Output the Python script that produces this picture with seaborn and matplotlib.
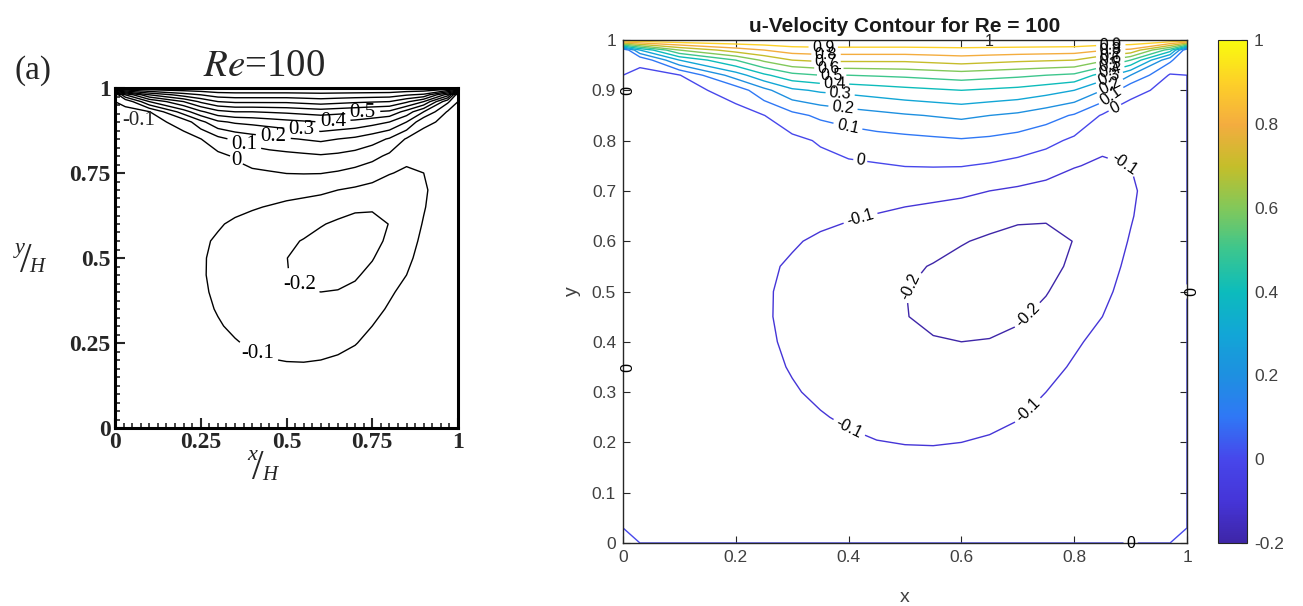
import numpy as np
import matplotlib
matplotlib.use("Agg")
import matplotlib.pyplot as plt
from matplotlib.colors import Normalize
from matplotlib.cm import ScalarMappable
from matplotlib.ticker import FuncFormatter, MultipleLocator
import seaborn as sns

# grid stations of the u-velocity table
x_st = [0, 0.03, 0.1, 0.2, 0.25, 0.3, 0.35, 0.4, 0.45, 0.5, 0.55, 0.6, 0.65, 0.7,
        0.75, 0.8, 0.85, 0.9, 0.97, 1]
y_st = [0, 0.03, 0.1, 0.15, 0.2, 0.25, 0.3, 0.35, 0.4, 0.45, 0.5, 0.55, 0.6, 0.65,
        0.7, 0.75, 0.8, 0.85, 0.9, 0.93, 0.96, 0.98, 1]

# u profiles along each x station (bottom -> top)
u_x000 = [0, 0, 0, 0, 0, 0, 0, 0, 0, 0, 0, 0, 0, 0, 0, 0, 0, 0, 0, 0, 0, 0, 1]
u_x003 = [0, -0.001, -0.004, -0.005, -0.007, -0.008, -0.009, -0.01, -0.011, -0.012, -0.013, -0.014,
          -0.015, -0.016, -0.017, -0.018, -0.019, -0.019, -0.017, -0.01, 0.01, 0.3, 1]
u_x010 = [0, -0.004, -0.012, -0.017, -0.022, -0.026, -0.03, -0.034, -0.038, -0.042, -0.045, -0.048,
          -0.051, -0.054, -0.057, -0.059, -0.06, -0.055, -0.04, -0.005, 0.3, 0.6, 1]
u_x020 = [0, -0.008, -0.025, -0.036, -0.046, -0.055, -0.062, -0.068, -0.073, -0.076, -0.078, -0.078,
          -0.077, -0.074, -0.069, -0.062, -0.053, -0.035, 0.04, 0.25, 0.5, 0.75, 1]
u_x025 = [0, -0.01, -0.033, -0.047, -0.059, -0.07, -0.079, -0.086, -0.091, -0.094, -0.094, -0.092,
          -0.087, -0.078, -0.067, -0.053, -0.035, -0.002, 0.17, 0.38, 0.62, 0.8, 1]
u_x030 = [0, -0.012, -0.04, -0.056, -0.07, -0.083, -0.095, -0.104, -0.11, -0.113, -0.112, -0.106,
          -0.095, -0.08, -0.062, -0.042, -0.025, 0.07, 0.28, 0.47, 0.7, 0.85, 1]
u_x035 = [0, -0.014, -0.045, -0.064, -0.08, -0.096, -0.11, -0.12, -0.127, -0.13, -0.129, -0.122,
          -0.108, -0.087, -0.06, -0.03, 0.01, 0.12, 0.315, 0.5, 0.72, 0.86, 1]
u_x040 = [0, -0.016, -0.05, -0.072, -0.09, -0.108, -0.126, -0.141, -0.152, -0.158, -0.158, -0.15,
          -0.13, -0.092, -0.052, -0.015, 0.04, 0.15, 0.33, 0.5, 0.72, 0.86, 1]
u_x045 = [0, -0.018, -0.055, -0.078, -0.098, -0.12, -0.142, -0.16, -0.174, -0.182, -0.183, -0.175,
          -0.15, -0.105, -0.055, -0.008, 0.06, 0.17, 0.35, 0.51, 0.72, 0.86, 1]
u_x050 = [0, -0.018, -0.058, -0.08, -0.102, -0.125, -0.15, -0.172, -0.188, -0.198, -0.199, -0.19,
          -0.165, -0.12, -0.065, 0.002, 0.07, 0.19, 0.37, 0.52, 0.72, 0.86, 1]
u_x055 = [0, -0.02, -0.057, -0.08, -0.103, -0.13, -0.155, -0.178, -0.196, -0.212, -0.218, -0.203,
          -0.18, -0.135, -0.07, 0.004, 0.08, 0.205, 0.385, 0.535, 0.735, 0.865, 1]
u_x060 = [0, -0.02, -0.053, -0.076, -0.1, -0.128, -0.155, -0.18, -0.2, -0.218, -0.228, -0.222,
          -0.195, -0.15, -0.08, 0.003, 0.09, 0.22, 0.4, 0.55, 0.75, 0.87, 1]
u_x065 = [0, -0.018, -0.048, -0.07, -0.092, -0.118, -0.145, -0.172, -0.197, -0.22, -0.235, -0.235,
          -0.212, -0.17, -0.1, -0.01, 0.08, 0.2, 0.385, 0.535, 0.735, 0.865, 1]
u_x070 = [0, -0.015, -0.04, -0.06, -0.081, -0.103, -0.128, -0.155, -0.182, -0.21, -0.232, -0.243,
          -0.228, -0.185, -0.115, -0.03, 0.06, 0.18, 0.37, 0.52, 0.72, 0.86, 1]
u_x075 = [0, -0.012, -0.032, -0.048, -0.064, -0.082, -0.1, -0.122, -0.148, -0.178, -0.205, -0.225,
          -0.225, -0.19, -0.13, -0.06, 0.03, 0.14, 0.34, 0.5, 0.71, 0.855, 1]
u_x080 = [0, -0.01, -0.025, -0.036, -0.048, -0.062, -0.076, -0.092, -0.11, -0.132, -0.158, -0.185,
          -0.198, -0.19, -0.15, -0.095, -0.02, 0.09, 0.3, 0.48, 0.7, 0.85, 1]
u_x085 = [0, -0.008, -0.018, -0.026, -0.034, -0.043, -0.053, -0.064, -0.08, -0.1, -0.12, -0.138,
          -0.15, -0.155, -0.145, -0.115, -0.075, -0.01, 0.2, 0.36, 0.62, 0.81, 1]
u_x090 = [0, -0.005, -0.01, -0.014, -0.019, -0.024, -0.03, -0.037, -0.045, -0.055, -0.067, -0.08,
          -0.094, -0.106, -0.113, -0.1, -0.075, -0.035, 0.02, 0.2, 0.5, 0.78, 1]
u_x097 = [0, -0.001, -0.003, -0.005, -0.007, -0.009, -0.011, -0.013, -0.015, -0.017, -0.019, -0.022,
          -0.027, -0.033, -0.038, -0.038, -0.035, -0.03, -0.02, -0.01, 0.12, 0.45, 1]
u_x100 = [0, 0, 0, 0, 0, 0, 0, 0, 0, 0, 0, 0, 0, 0, 0, 0, 0, 0, 0, 0, 0, 0, 1]

levels = [-0.2, -0.1, 0.0, 0.1, 0.2, 0.3, 0.4, 0.5, 0.6, 0.7, 0.8, 0.9]
cbar_ticks = [-0.2, 0, 0.2, 0.4, 0.6, 0.8, 1]
left_ticks = [0, 0.25, 0.5, 0.75, 1]
parula_keys = ["#3e26a8", "#4535d8", "#4747eb", "#2f78f5", "#1e90e0", "#12a6d6",
               "#0cbcbc", "#3cc68e", "#82c85a", "#c4be2a", "#f4ac40", "#fdd028", "#f9fb0e"]

# where the contour labels sit (level -> positions)
ghia_label_pos = {0.1: [(0.374, 0.826)], 0.2: [(0.461, 0.853)], 0.3: [(0.544, 0.872)],
                  0.4: [(0.636, 0.892)], 0.5: [(0.723, 0.918)], 0.0: [(0.345, 0.77)],
                  -0.2: [(0.52, 0.4)], -0.1: [(0.408, 0.2)]}
matlab_label_pos = {0.0: [(0.42, 0.755), (0.87, 0.87), (0.0, 0.9), (0.0, 0.35),
                          (1.0, 0.5), (0.9, 0.0)],
                    0.1: [(0.40, 0.834), (0.865, 0.89)],
                    0.2: [(0.39, 0.865), (0.865, 0.905)],
                    0.3: [(0.385, 0.893), (0.865, 0.92)],
                    0.4: [(0.375, 0.912), (0.865, 0.935)],
                    0.5: [(0.37, 0.93), (0.865, 0.945)],
                    0.6: [(0.365, 0.945), (0.865, 0.955)],
                    0.7: [(0.36, 0.96), (0.865, 0.965)],
                    0.8: [(0.36, 0.972), (0.865, 0.975)],
                    0.9: [(0.355, 0.986), (0.865, 0.988)],
                    -0.1: [(0.42, 0.65), (0.40, 0.227), (0.715, 0.267), (0.89, 0.757)],
                    -0.2: [(0.515, 0.504), (0.72, 0.45)]}

sns.set_style("ticks")
parula = sns.blend_palette(parula_keys, n_colors=256, as_cmap=True)
plt.rcParams["contour.negative_linestyle"] = "solid"

X, Y = np.meshgrid(x_st, y_st)
U = np.column_stack([u_x000, u_x003, u_x010, u_x020, u_x025, u_x030, u_x035, u_x040,
                     u_x045, u_x050, u_x055, u_x060, u_x065, u_x070, u_x075, u_x080,
                     u_x085, u_x090, u_x097, u_x100])

W, H = 1303, 606
fig = plt.figure(figsize=(W / 100, H / 100), dpi=100)
fmt = FuncFormatter(lambda v, p: f"{v:g}")
serif = "Liberation Serif"
sans = "Liberation Sans"
grey = "#404040"
norm = Normalize(-0.2, 1)


def ftext(px, py, s, **kw):
    # place a text at a pixel position of the figure
    fig.text(px / W, 1 - py / H, s, ha="center", va="center", **kw)


# ---- left: reference (Ghia) style panel
axL = fig.add_axes([115 / W, 1 - 428 / H, 343 / W, 340 / H])
for lev in levels:
    cs = axL.contour(X, Y, U, levels=[lev], colors="black", linewidths=1.0,
                     linestyles="solid")
    if lev in ghia_label_pos:
        txts = axL.clabel(cs, manual=ghia_label_pos[lev], fmt=lambda v: f"{v:g}",
                          fontsize=15, inline_spacing=1)
        for t in txts:
            t.set_rotation(0)
            t.set_family(serif)
axL.text(0.02, 0.905, "-0.1", family=serif, fontsize=15, va="center", ha="left")
axL.set_xlim(0, 1)
axL.set_ylim(0, 1)
axL.set_xticks(left_ticks)
axL.set_yticks(left_ticks)
axL.xaxis.set_major_formatter(fmt)
axL.yaxis.set_major_formatter(fmt)
axL.xaxis.set_minor_locator(MultipleLocator(0.025))
axL.yaxis.set_minor_locator(MultipleLocator(0.025))
axL.tick_params(which="major", direction="in", length=7, width=1.5, pad=3)
axL.tick_params(which="minor", direction="in", length=3.5, width=1.2)
for lab in axL.get_xticklabels() + axL.get_yticklabels():
    lab.set_family(serif)
    lab.set_fontweight("bold")
    lab.set_fontsize(17)
for s in axL.spines.values():
    s.set_linewidth(2.2)
    s.set_color("black")

ftext(33, 71, "(a)", family=serif, fontsize=24)
ftext(264, 67, "$\\mathit{Re}$=100", family=serif, fontsize=28, math_fontfamily="stix")
ftext(20, 249, "y", family=serif, style="italic", fontsize=16)
ftext(26, 262, "/", family=serif, fontsize=30)
ftext(37, 268, "H", family=serif, style="italic", fontsize=15)
ftext(252, 455, "x", family=serif, style="italic", fontsize=16)
ftext(258, 469, "/", family=serif, fontsize=30)
ftext(270, 476, "H", family=serif, style="italic", fontsize=15)

# ---- right: computed result, MATLAB style
axR = fig.add_axes([623 / W, 1 - 543 / H, 564 / W, 503 / H])
for lev in levels:
    c = parula(norm(lev))
    # the zero level follows the walls too, as in the MATLAB picture
    Z = -U if lev == 0 else U
    cs = axR.contour(X, Y, Z, levels=[lev], colors=[c], linewidths=1.0)
    txts = axR.clabel(cs, manual=matlab_label_pos[lev],
                      fmt=lambda v: f"{abs(v):g}" if v == 0 else f"{v:g}",
                      fontsize=11.5, inline_spacing=2, colors="black")
    for t in txts:
        t.set_family(sans)
        t.set_clip_on(False)
        t.set_zorder(5)
axR.text(0.65, 0.997, "1", family=sans, fontsize=11.5, ha="center", va="center")
axR.set_xlim(0, 1)
axR.set_ylim(0, 1)
axR.set_xticks(np.linspace(0, 1, 6))
axR.set_yticks(np.linspace(0, 1, 11))
axR.xaxis.set_major_formatter(fmt)
axR.yaxis.set_major_formatter(fmt)
axR.tick_params(direction="in", length=5, width=0.8, top=True, right=True,
                labelsize=12.5, labelcolor=grey, color="#262626", pad=5)
for lab in axR.get_xticklabels() + axR.get_yticklabels():
    lab.set_family(sans)
for s in axR.spines.values():
    s.set_linewidth(1.0)
    s.set_color("#262626")
axR.set_title("u-Velocity Contour for Re = 100", family=sans, fontsize=15,
              fontweight="bold", color="#1a1a1a", pad=6)
axR.set_xlabel("x", family=sans, fontsize=14, color=grey, labelpad=17)
axR.set_ylabel("y", family=sans, fontsize=14, color=grey, labelpad=8)

cax = fig.add_axes([1218 / W, 1 - 543 / H, 29 / W, 503 / H])
cb = fig.colorbar(ScalarMappable(norm=norm, cmap=parula), cax=cax, ticks=cbar_ticks)
cb.ax.yaxis.set_major_formatter(fmt)
cb.ax.tick_params(direction="in", length=4, width=0.8, labelsize=12.5,
                  labelcolor=grey, color="#262626", pad=5)
for lab in cb.ax.get_yticklabels():
    lab.set_family(sans)
cb.outline.set_linewidth(0.8)
cb.outline.set_edgecolor("#262626")

fig.savefig("out.png", dpi=100)
